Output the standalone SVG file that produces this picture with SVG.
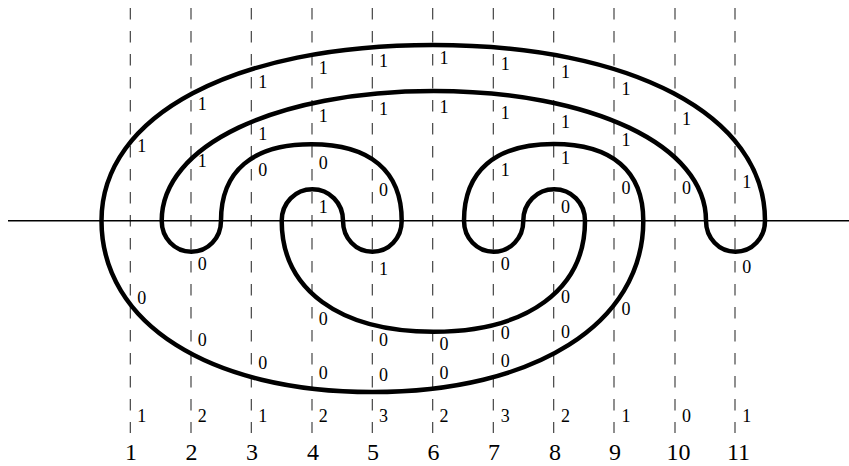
<svg xmlns="http://www.w3.org/2000/svg" width="849" height="466" viewBox="0 0 849 466">
<style>
.grid{stroke:#333;stroke-width:1.1;stroke-dasharray:11.5 11.5;fill:none}
.axis{stroke:#000;stroke-width:1.4;fill:none}
.curve{stroke:#000;stroke-width:4.5;fill:none;stroke-linejoin:round}
.lab{font-family:"Liberation Serif","DejaVu Serif",serif;font-size:18px;fill:#000;text-anchor:middle}
.num{font-family:"Liberation Serif","DejaVu Serif",serif;font-size:24px;fill:#000;text-anchor:middle}
</style>
<rect width="849" height="466" fill="#fff"/>
<g id="grid">
<line class="grid" x1="130.3" y1="8" x2="130.3" y2="433"/>
<line class="grid" x1="191" y1="8" x2="191" y2="433"/>
<line class="grid" x1="251.3" y1="8" x2="251.3" y2="433"/>
<line class="grid" x1="312" y1="8" x2="312" y2="433"/>
<line class="grid" x1="372.3" y1="8" x2="372.3" y2="433"/>
<line class="grid" x1="432.7" y1="8" x2="432.7" y2="433"/>
<line class="grid" x1="493.3" y1="8" x2="493.3" y2="433"/>
<line class="grid" x1="553.7" y1="8" x2="553.7" y2="433"/>
<line class="grid" x1="614" y1="8" x2="614" y2="433"/>
<line class="grid" x1="675" y1="8" x2="675" y2="433"/>
<line class="grid" x1="735" y1="8" x2="735" y2="433"/>
</g>
<g id="axis">
<line class="axis" x1="8" y1="220.7" x2="849" y2="220.7"/>
</g>
<g id="curve">
<path class="curve" d="M101.5,220.7 C101.5,115.3 234.1,45 433,45 C631.9,45 765,115.3 765,220.7
C765,238 752,251.7 735.5,251.7 C719,251.7 706,238 706,220.7
C706,145.5 591.7,91 433.85,91 C276,91 161.7,145.5 161.7,220.7
C161.7,238 174.7,251.7 191.3,251.7 C207.9,251.7 221,238 221,220.7
C221,171 252.6,144.3 311.35,144.3 C370.1,144.3 401.7,171 401.7,220.7
C401.7,238 389,251.7 372.35,251.7 C355.7,251.7 343,238 343,220.7
C343,203.1 329.5,189.3 312.35,189.3 C295.2,189.3 281.7,203.1 281.7,220.7
C281.7,289.5 339.3,331.7 433.35,331.7 C527.4,331.7 585,289.5 585,220.7
C585,203.1 571.4,189.3 554.15,189.3 C536.9,189.3 523.3,203.1 523.3,220.7
C523.3,238 510.3,251.7 493.65,251.7 C477,251.7 464,238 464,220.7
C464,171 495.4,144 553.65,144 C611.9,144 643.3,171 643.3,220.7
C643.3,323.5 534.9,392 372.4,392 C209.9,392 101.5,323.5 101.5,220.7 Z"/>
</g>
<g id="labels">
<text class="lab" x="141.7" y="152">1</text>
<text class="lab" x="141.7" y="303.5">0</text>
<text class="lab" x="141.7" y="421.5">1</text>

<text class="lab" x="202.3" y="110">1</text>
<text class="lab" x="202.3" y="167">1</text>
<text class="lab" x="202.3" y="270">0</text>
<text class="lab" x="202.3" y="345.5">0</text>
<text class="lab" x="202.3" y="421.5">2</text>

<text class="lab" x="262.7" y="88">1</text>
<text class="lab" x="262.7" y="140">1</text>
<text class="lab" x="262.7" y="176">0</text>
<text class="lab" x="262.7" y="369">0</text>
<text class="lab" x="262.7" y="421.5">1</text>

<text class="lab" x="323.3" y="74">1</text>
<text class="lab" x="323.3" y="122">1</text>
<text class="lab" x="323.3" y="169">0</text>
<text class="lab" x="323.3" y="213">1</text>
<text class="lab" x="323.3" y="324.5">0</text>
<text class="lab" x="323.3" y="379">0</text>
<text class="lab" x="323.3" y="421.5">2</text>

<text class="lab" x="383.5" y="67">1</text>
<text class="lab" x="383.5" y="115">1</text>
<text class="lab" x="383.5" y="196">0</text>
<text class="lab" x="383.5" y="274.5">1</text>
<text class="lab" x="383.5" y="346">0</text>
<text class="lab" x="383.5" y="381">0</text>
<text class="lab" x="383.5" y="421.5">3</text>

<text class="lab" x="444" y="63.5">1</text>
<text class="lab" x="444" y="113">1</text>
<text class="lab" x="444" y="350">0</text>
<text class="lab" x="444" y="378.5">0</text>
<text class="lab" x="444" y="421.5">2</text>

<text class="lab" x="505.3" y="69.5">1</text>
<text class="lab" x="505.3" y="118.5">1</text>
<text class="lab" x="505.3" y="176">1</text>
<text class="lab" x="505.3" y="270">0</text>
<text class="lab" x="505.3" y="339">0</text>
<text class="lab" x="505.3" y="367">0</text>
<text class="lab" x="505.3" y="421.5">3</text>

<text class="lab" x="565.5" y="78">1</text>
<text class="lab" x="565.5" y="128">1</text>
<text class="lab" x="565.5" y="163.5">1</text>
<text class="lab" x="565.5" y="213">0</text>
<text class="lab" x="565.5" y="303">0</text>
<text class="lab" x="565.5" y="338">0</text>
<text class="lab" x="565.5" y="421.5">2</text>

<text class="lab" x="626" y="94.5">1</text>
<text class="lab" x="626" y="146">1</text>
<text class="lab" x="626" y="194">0</text>
<text class="lab" x="626" y="314.5">0</text>
<text class="lab" x="626" y="421.5">1</text>

<text class="lab" x="686.5" y="124.5">1</text>
<text class="lab" x="686.5" y="194">0</text>
<text class="lab" x="686.5" y="421.5">0</text>

<text class="lab" x="746.7" y="188">1</text>
<text class="lab" x="746.7" y="273">0</text>
<text class="lab" x="746.7" y="421.5">1</text>
</g>
<g id="column-numbers">
<text class="num" x="131" y="460">1</text>
<text class="num" x="191.5" y="460">2</text>
<text class="num" x="252" y="460">3</text>
<text class="num" x="313" y="460">4</text>
<text class="num" x="373" y="460">5</text>
<text class="num" x="433.5" y="460">6</text>
<text class="num" x="494" y="460">7</text>
<text class="num" x="555" y="460">8</text>
<text class="num" x="615" y="460">9</text>
<text class="num" x="678.5" y="460">10</text>
<text class="num" x="738.5" y="460">11</text>
</g>
</svg>
